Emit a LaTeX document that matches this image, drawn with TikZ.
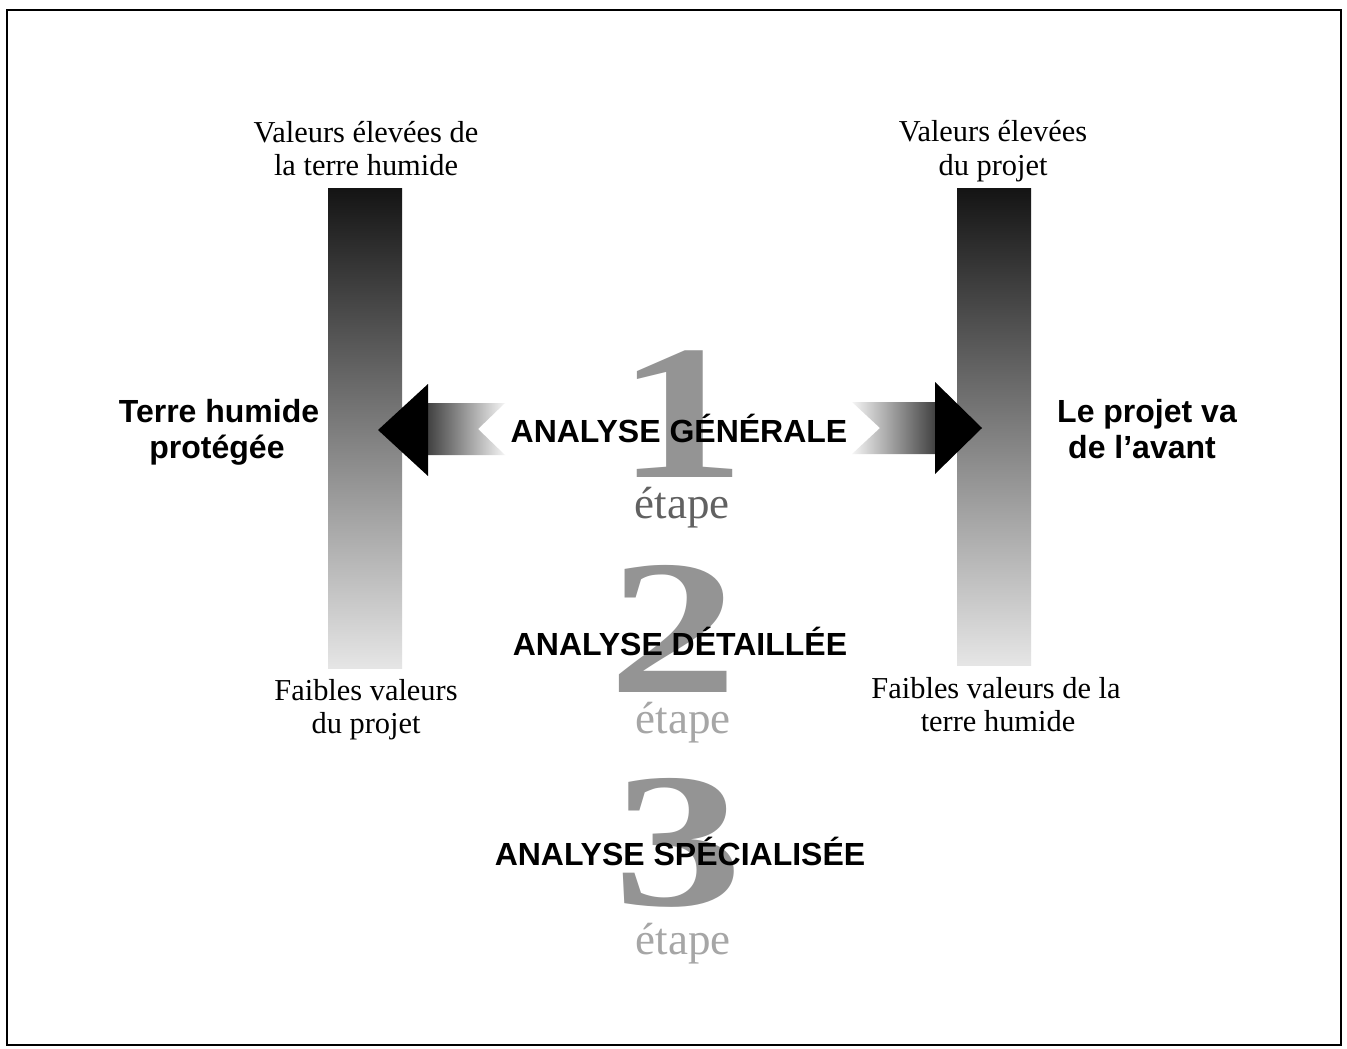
\documentclass[tikz,border=0pt]{standalone}
\usepackage{fontspec}
\setmainfont{Liberation Serif}
\setsansfont{Liberation Sans}
\newcommand{\widedigit}[1]{\scalebox{1.35}[1]{#1}}
\begin{document}
\begin{tikzpicture}[x=0.5pt,y=-0.5pt,
  frameline/.style={line width=1.2pt},
  valuebar/.style={draw=none, inner sep=0pt, minimum width=37pt,
    top color=black!92, middle color=black!48, bottom color=black!10},
  headtip/.style={fill=black, draw=none},
  serifnote/.style={anchor=base, inner sep=0pt,
    font=\rmfamily\fontsize{15.2}{18}\selectfont},
  outcome/.style={anchor=base, inner sep=0pt,
    font=\sffamily\bfseries\fontsize{16}{19}\selectfont},
  stagename/.style={anchor=base, inner sep=0pt,
    font=\sffamily\bfseries\fontsize{16}{19}\selectfont},
  stagedigit/.style={anchor=base, inner sep=0pt, text depth=0pt,
    text=black!42, font=\rmfamily\bfseries\fontsize{96}{96}\selectfont},
  stageword/.style={anchor=base, inner sep=0pt, text depth=0pt,
    font=\rmfamily\fontsize{22.5}{25}\selectfont}]

\useasboundingbox (0,0) rectangle (1347,1048);
\fill[white] (0,0) rectangle (1347,1048);
\draw[frameline] (7,10) rectangle (1341,1045);

% value scales
\node[valuebar, minimum height=239.5pt] (lbar) at (365,428.5) {};
\node[valuebar, minimum height=238pt]   (rbar) at (994,427) {};

% arrow towards the protected wetland
\shade[left color=black!75, right color=black!4]
  (427,403) -- (505,403) -- (478,429) -- (505,455) -- (427,455) -- cycle;
\path[headtip] (378,430) -- (428,384) -- (428,476) -- cycle;

% arrow towards the project going ahead
\shade[left color=black!4, right color=black!75]
  (936,402) -- (852,402) -- (880,428) -- (852,454) -- (936,454) -- cycle;
\path[headtip] (982,428) -- (935,382) -- (935,474) -- cycle;

% stage numbers
\node[stagedigit] (d1) at (681,477) {\widedigit{1}};
\node[stagedigit] (d2) at (673,692) {\widedigit{2}};
\node[stagedigit] (d3) at (678,905) {\widedigit{3}};

\node[stageword, text=black!62] (e1) at (682,518) {étape};
\node[stageword, text=black!35] (e2) at (683,733) {étape};
\node[stageword, text=black!35] (e3) at (683,954) {étape};

% stage names
\node[stagename] (s1) at (679,442) {ANALYSE GÉNÉRALE};
\node[stagename] (s2) at (680,655) {ANALYSE DÉTAILLÉE};
\node[stagename] (s3) at (680,865) {ANALYSE SPÉCIALISÉE};

% scale ends, left
\node[serifnote] (lt1) at (366,143) {Valeurs élevées de};
\node[serifnote] (lt2) at (366,176) {la terre humide};
\node[serifnote] (lb1) at (366,700) {Faibles valeurs};
\node[serifnote] (lb2) at (366,733) {du projet};

% scale ends, right
\node[serifnote] (rt1) at (993,142) {Valeurs élevées};
\node[serifnote] (rt2) at (993,176) {du projet};
\node[serifnote] (rb1) at (996,698) {Faibles valeurs de la};
\node[serifnote] (rb2) at (998,731) {terre humide};

% outcomes
\node[outcome] (lo1) at (219,422) {Terre humide};
\node[outcome] (lo2) at (217,458) {protégée};
\node[outcome] (ro1) at (1147,422) {Le projet va};
\node[outcome] (ro2) at (1142,458) {de l’avant};
\end{tikzpicture}
\end{document}
